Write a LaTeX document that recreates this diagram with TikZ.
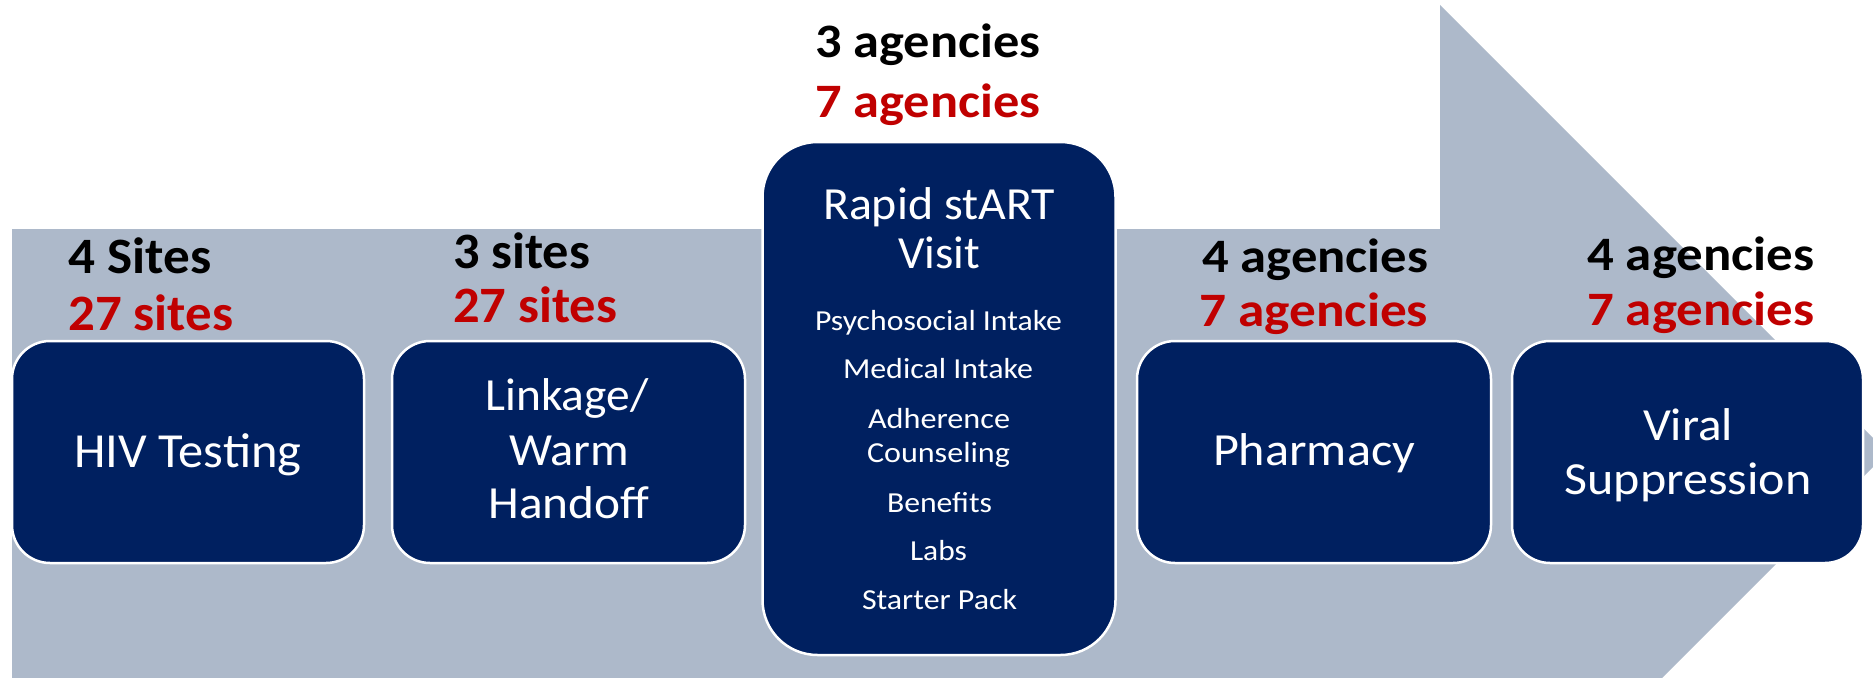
\documentclass[tikz,border=0pt]{standalone}
\usepackage{fontspec}
\setmainfont{Carlito}
\usepackage{graphicx}

\definecolor{band}{RGB}{173,185,202}
\definecolor{navy}{RGB}{0,32,96}
\definecolor{darkred}{RGB}{192,0,0}

% set a line of text to a given width, keeping its natural height
\newcommand\fitw[2]{\resizebox{#1pt}{\height}{#2}}

\tikzset{
  stage/.style={draw=white, line width=2.5pt, fill=navy, rounded corners=38pt,
                minimum height=222pt, inner sep=0pt, outer sep=0pt},
  bigstage/.style={stage, rounded corners=55pt, minimum height=513pt},
  boxtxt/.style={text=white, anchor=base, inner sep=0pt,
                 font=\fontsize{46}{46}\selectfont},
  itemtxt/.style={text=white, anchor=base, inner sep=0pt,
                  font=\fontsize{29}{29}\selectfont},
  count/.style={anchor=base west, inner sep=0pt,
                font=\fontsize{48}{48}\selectfont\bfseries},
  sitecount/.style={font=\fontsize{51}{51}\selectfont\bfseries},
  oldcount/.style={count, text=black},
  newcount/.style={count, text=darkred},
}

\begin{document}
\begin{tikzpicture}[x=1pt, y=-1pt]
\useasboundingbox (0,0) rectangle (1873,677);

% background block arrow
\begin{scope}
  \clip (0,0) rectangle (1873,677);
  \fill[band] (12,229) -- (1440,229) -- (1440,5) -- (1887.5,452.5)
              -- (1440,900) -- (1440,680) -- (12,680) -- cycle;
\end{scope}

% stages
\node[stage, minimum width=352pt] (test) at (188,452) {};
\node[stage, minimum width=353pt] (link) at (568.5,452) {};
\node[bigstage, minimum width=353pt] (visit) at (939,398.5) {};
\node[stage, minimum width=354pt] (pharm) at (1314,452) {};
\node[stage, minimum width=351pt] (viral) at (1687.5,452) {};

% stage titles
\node[boxtxt, font=\fontsize{49}{49}\selectfont] (testT) at (188,467) {\fitw{227}{HIV Testing}};

\node[boxtxt] (linkA) at (567,410) {\fitw{163}{Linkage/}};
\node[boxtxt] (linkB) at (569,465) {\fitw{120}{Warm}};
\node[boxtxt] (linkC) at (569,518) {\fitw{161}{Handoff}};

\node[boxtxt] (visitA) at (939,219) {\fitw{232}{Rapid stART}};
\node[boxtxt] (visitB) at (939,268) {\fitw{82}{Visit}};
\node[itemtxt] (item1) at (938.5,330) {\fitw{247}{Psychosocial Intake}};
\node[itemtxt] (item2) at (938,378) {\fitw{190}{Medical Intake}};
\node[itemtxt] (item3) at (939,428) {\fitw{142}{Adherence}};
\node[itemtxt] (item4) at (938.5,462) {\fitw{143}{Counseling}};
\node[itemtxt] (item5) at (939.5,512) {\fitw{105}{Benefits}};
\node[itemtxt] (item6) at (938.5,560) {\fitw{57}{Labs}};
\node[itemtxt] (item7) at (939.5,609) {\fitw{155}{Starter Pack}};

\node[boxtxt] (pharmT) at (1314,465) {\fitw{202}{Pharmacy}};

\node[boxtxt] (viralA) at (1688,440) {\fitw{90}{Viral}};
\node[boxtxt] (viralB) at (1688,494) {\fitw{247}{Suppression}};

% counts above each stage
\node[oldcount, sitecount] (testOld) at (68,273) {\fitw{143}{4 Sites}};
\node[newcount, sitecount] (testNew) at (68,330) {\fitw{165}{27 sites}};

\node[oldcount, sitecount] (linkOld) at (453,268) {\fitw{137}{3 sites}};
\node[newcount, sitecount] (linkNew) at (453,322) {\fitw{164}{27 sites}};

\node[oldcount] (visitOld) at (815,58) {\fitw{225}{3 agencies}};
\node[newcount] (visitNew) at (815,117) {\fitw{225}{7 agencies}};

\node[oldcount] (pharmOld) at (1202,272) {\fitw{226}{4 agencies}};
\node[newcount] (pharmNew) at (1199,326) {\fitw{229}{7 agencies}};

\node[oldcount] (viralOld) at (1587,270) {\fitw{227}{4 agencies}};
\node[newcount] (viralNew) at (1587,325) {\fitw{227}{7 agencies}};
\end{tikzpicture}
\end{document}
